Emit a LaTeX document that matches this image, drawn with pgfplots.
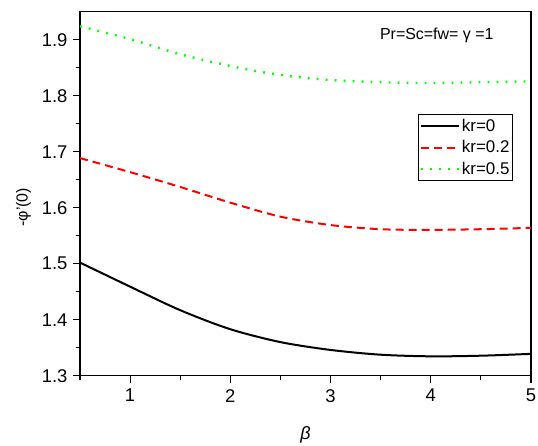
\documentclass[border=0pt]{standalone}
\usepackage{fontspec}
\setmainfont{Liberation Sans}
\usepackage{pgfplots}
\pgfplotsset{compat=1.18}
\definecolor{mygreen}{RGB}{0,255,0}
\begin{document}
\begin{tikzpicture}
\useasboundingbox (-80bp,-70.3bp) rectangle (458bp,375.7bp);
\begin{axis}[
  at={(0,0)}, anchor=south west,
  scale only axis,
  width=451bp, height=364bp,
  xmin=0.5, xmax=5, ymin=1.3, ymax=1.95,
  xtick={1,2,3,4,5}, ytick={1.3,1.4,1.5,1.6,1.7,1.8,1.9},
  minor xtick={0.5,1.5,2.5,3.5,4.5},
  minor ytick={1.35,1.45,1.55,1.65,1.75,1.85},
  xtick pos=left, ytick pos=left,
  tick align=outside,
  major tick length=7bp, minor tick length=4bp,
  every tick/.style={black, line width=1.2bp},
  axis line style={line width=1.5bp},
  /pgf/number format/assume math mode=true,
  /pgf/number format/fixed, /pgf/number format/precision=1,
  /pgf/number format/fixed zerofill,
  yticklabel style={font=\fontsize{18.5}{21}\selectfont, xshift=-2bp},
  xticklabel={\pgfmathprintnumber[int detect]{\tick}},
  xticklabel style={font=\fontsize{18.5}{21}\selectfont, yshift=-3bp},
  xlabel={\textit{β}},
  xlabel style={font=\fontsize{18}{20}\selectfont, at={(axis description cs:0.5,-0.163)}, anchor=center},
  ylabel={-φ'(0)},
  ylabel style={font=\fontsize{16}{18}\selectfont, at={(axis description cs:-0.125,0.463)}, anchor=center},
  legend style={at={(axis description cs:0.96,0.719)}, anchor=north east,
    font=\fontsize{17}{19}\selectfont, draw=black, line width=0.9bp,
    inner xsep=1bp, inner ysep=3bp, row sep=3.5bp, legend cell align=left},
  legend image code/.code={\draw[#1] (0bp,0bp) -- (38bp,0bp);},
]
\addplot[black, smooth, line width=2bp] coordinates {
 (0.5,1.502) (1,1.459) (1.5,1.417) (2,1.383) (2.5,1.360) (3,1.346)
 (3.5,1.3375) (4,1.3346) (4.5,1.3357) (5,1.339)};
\addlegendentry{kr=0}
\addplot[red, smooth, line width=2bp, dash pattern=on 8bp off 5bp] coordinates {
 (0.5,1.6886) (1,1.6635) (1.5,1.637) (2,1.609) (2.5,1.584) (3,1.569)
 (3.5,1.5616) (4,1.5604) (4.5,1.5616) (5,1.564)};
\addlegendentry{kr=0.2}
\addplot[mygreen, smooth, line width=2.4bp, dash pattern=on 1.8bp off 7.2bp] coordinates {
 (0.5,1.924) (1,1.901) (1.5,1.874) (2,1.853) (2.5,1.837) (3,1.828)
 (3.5,1.824) (4,1.8226) (4.5,1.824) (5,1.8255)};
\addlegendentry{kr=0.5}
\node[font=\fontsize{16}{18}\selectfont] at (axis cs:4.06,1.907) {Pr=Sc=fw= γ =1};
\end{axis}
\end{tikzpicture}
\end{document}
